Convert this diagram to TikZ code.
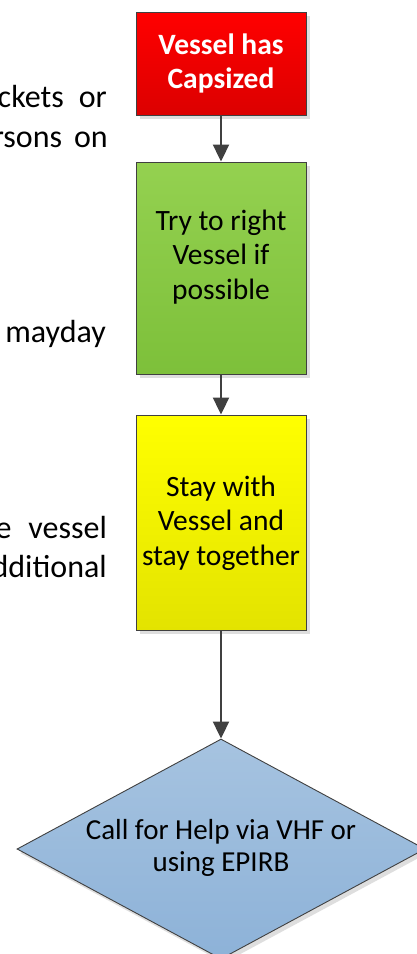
\documentclass[tikz,border=0pt]{standalone}
\usepackage{fontspec}
\setmainfont{Carlito}
\usetikzlibrary{shapes.geometric,arrows.meta,shadows}
\definecolor{redtop}{HTML}{FF0000}
\definecolor{redbot}{HTML}{DC0000}
\definecolor{grtop}{HTML}{94D150}
\definecolor{grbot}{HTML}{7DC03A}
\definecolor{yetop}{HTML}{FFFF00}
\definecolor{yebot}{HTML}{E3E300}
\definecolor{bltop}{HTML}{A6C3E0}
\definecolor{blbot}{HTML}{8DB2D8}
\definecolor{edge}{HTML}{404040}
\tikzset{
  x=1pt, y=-1pt,
  txt/.style={font=\fontsize{29.5}{34.5}\selectfont, align=center, inner sep=0pt},
  sidetxt/.style={font=\fontsize{32}{40}\selectfont, inner sep=0pt, anchor=base east},
  stepbox/.style={draw=edge, line width=0.9pt, minimum width=170pt, inner sep=0pt,
    drop shadow={shadow xshift=4pt, shadow yshift=-4pt, fill=black!13, opacity=1}},
  conn/.style={draw=edge, line width=2pt, -{Triangle[width=16pt,length=17pt]}},
}
\begin{document}
\begin{tikzpicture}
\useasboundingbox (0,0) rectangle (417,954);
\clip (0,0) rectangle (417,954);
\fill[white] (0,0) rectangle (417,954);
% side text fragments
\node[sidetxt] (s1) at (107,107) {ckets\hspace{15pt}or};
\node[sidetxt] (s2) at (108,147) {rsons\hspace{12pt}on};
\node[sidetxt] (s3) at (106,342) {mayday};
\node[sidetxt] (s4) at (107,538) {e\hspace{17pt}vessel};
\node[sidetxt] (s5) at (107,577) {dditional};
% boxes
\node[stepbox, minimum height=103pt, top color=redtop, bottom color=redbot] (red) at (221,63.5) {};
\node[txt, text=white, font=\fontsize{29.5}{34}\selectfont\bfseries] (redt) at (221,63) {Vessel has\\Capsized};
\node[stepbox, minimum height=212pt, top color=grtop, bottom color=grbot] (green) at (221,268) {};
\node[txt] (greent) at (221,257) {Try to right\\Vessel if\\possible};
\node[stepbox, minimum height=215pt, top color=yetop, bottom color=yebot] (yellow) at (221,522.5) {};
\node[txt] (yellowt) at (221,523) {Stay with\\Vessel and\\stay together};
\node[draw=edge, line width=0.9pt, diamond, aspect=1.855, minimum width=408pt, minimum height=220pt, inner sep=0pt,
  top color=bltop, bottom color=blbot,
  drop shadow={shadow xshift=3pt, shadow yshift=-4pt, fill=black!13, opacity=1}] (help) at (221,849) {};
\node[txt, font=\fontsize{29}{32.5}\selectfont] (helpt) at (221,848) {Call for Help via VHF or\\using EPIRB};
% connectors
\draw[conn] (red.south) -- (green.north);
\draw[conn] (green.south) -- (yellow.north);
\draw[conn] (yellow.south) -- (help.north);
\end{tikzpicture}
\end{document}
